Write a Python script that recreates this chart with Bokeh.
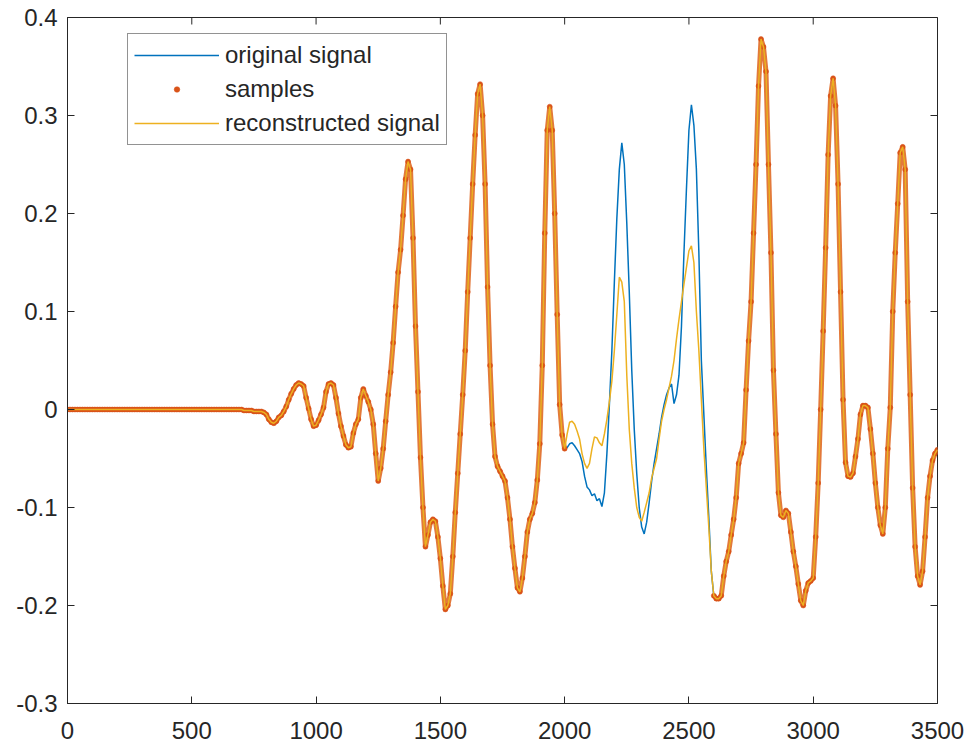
import numpy as np
from bokeh.plotting import figure
from bokeh.models import Range1d, FixedTicker, Legend, LegendItem
from bokeh.embed import file_html
from bokeh.resources import INLINE

# ---------------- data ----------------
x_step = 10
x_max = 3500

# original signal, one value every 10 samples from 0 to 3500
original_signal = (
    [0.0] * 70 +
    [0.0, -0.001, -0.001, -0.001, -0.001, -0.002, -0.002, -0.002, -0.002, -0.003,            # 700-790
     -0.005, -0.010, -0.013, -0.014, -0.012, -0.008, -0.006, -0.002, 0.003, 0.010,          # 800-890
     0.016, 0.021, 0.025, 0.027, 0.026, 0.024, 0.012, 0.001, -0.010, -0.017,                # 900-990
     -0.016, -0.011, -0.005, 0.002, 0.018, 0.026, 0.027, 0.025, 0.012, -0.004,              # 1000-1090
     -0.017, -0.027, -0.036, -0.039, -0.038, -0.024, -0.015, -0.010, 0.012, 0.021,          # 1100-1190
     0.014, 0.008, 0.000, -0.015, -0.045, -0.073, -0.060, -0.040, -0.012, 0.015,            # 1200-1290
     0.038, 0.068, 0.105, 0.140, 0.163, 0.198, 0.235, 0.253, 0.245, 0.175,                  # 1300-1390
     0.085, 0.018, -0.049, -0.100, -0.140, -0.128, -0.115, -0.112, -0.114, -0.130,          # 1400-1490
     -0.152, -0.180, -0.204, -0.200, -0.188, -0.150, -0.105, -0.065, -0.025, 0.015,         # 1500-1590
     0.060, 0.120, 0.175, 0.230, 0.280, 0.322, 0.332, 0.300, 0.230, 0.125,                  # 1600-1690
     0.045, -0.015, -0.048, -0.058, -0.063, -0.068, -0.073, -0.090, -0.112, -0.140,         # 1700-1790
     -0.162, -0.182, -0.186, -0.172, -0.150, -0.125, -0.112, -0.106, -0.095, -0.072,        # 1800-1890
     -0.035, 0.045, 0.180, 0.285, 0.309, 0.285, 0.200, 0.097, 0.005, -0.026,                # 1900-1990
     -0.040,                                                                                # 2000
     -0.039, -0.035, -0.034, -0.037, -0.041, -0.045, -0.053, -0.068, -0.079,                # 2010-2090
     -0.082, -0.088, -0.086, -0.093, -0.091, -0.099, -0.085, -0.045, 0.005, 0.060,          # 2100-2190
     0.130, 0.195, 0.245, 0.272, 0.250, 0.190, 0.120, 0.040, -0.020, -0.065,                # 2200-2290
     -0.100, -0.120, -0.127, -0.115, -0.095, -0.073, -0.055, -0.040, -0.025, -0.008,        # 2300-2390
     0.005, 0.015, 0.022, 0.026, 0.006, 0.015, 0.035, 0.085, 0.160, 0.225,                  # 2400-2490
     0.285, 0.311, 0.290, 0.245, 0.160, 0.050, -0.005, -0.060, -0.110, -0.165,              # 2500-2590
     -0.190, -0.193, -0.193, -0.190, -0.170, -0.155, -0.145, -0.128, -0.112, -0.090,        # 2600-2690
     -0.055, -0.045, -0.034, 0.020, 0.070, 0.110, 0.180, 0.250, 0.330, 0.378,               # 2700-2790
     0.370, 0.345, 0.250, 0.160, 0.040, -0.025, -0.085, -0.108, -0.110, -0.103,             # 2800-2890
     -0.106, -0.125, -0.145, -0.160, -0.178, -0.195, -0.200, -0.185, -0.177, -0.175,        # 2900-2990
     -0.172, -0.130, -0.075, 0.000, 0.080, 0.165, 0.260, 0.320, 0.338, 0.310,               # 3000-3090
     0.230, 0.120, 0.010, -0.054, -0.068, -0.069, -0.065, -0.048, -0.030, -0.005,           # 3100-3190
     0.004, 0.004, 0.002, -0.020, -0.045, -0.075, -0.100, -0.118, -0.127, -0.100,           # 3200-3290
     -0.040, 0.002, 0.100, 0.160, 0.210, 0.262, 0.268, 0.245, 0.110, 0.015,                 # 3300-3390
     -0.080, -0.140, -0.170, -0.179, -0.165, -0.130, -0.090, -0.068, -0.052, -0.045,        # 3400-3490
     -0.041]                                                                                # 3500
)

# reconstructed signal inside the un-sampled gap (2010..2590); elsewhere equal to the original
gap_first, gap_last = 2010, 2590
reconstructed_gap = [
    -0.025, -0.013, -0.012, -0.015, -0.022, -0.030, -0.045, -0.055, -0.060,                 # 2010-2090
    -0.055, -0.040, -0.028, -0.029, -0.034, -0.037, -0.025, -0.010, 0.008, 0.029,           # 2100-2190
    0.060, 0.097, 0.135, 0.130, 0.110, 0.035, -0.020, -0.055, -0.080, -0.100,               # 2200-2290
    -0.110, -0.114, -0.105, -0.095, -0.085, -0.070, -0.060, -0.050, -0.030, -0.012,         # 2300-2390
    0.000, 0.010, 0.022, 0.034, 0.050, 0.072, 0.092, 0.110, 0.128, 0.145,                   # 2400-2490
    0.162, 0.167, 0.150, 0.100, 0.060, 0.010, -0.040, -0.080, -0.120, -0.165,               # 2500-2590
]

x_ticks = [0, 500, 1000, 1500, 2000, 2500, 3000, 3500]
x_tick_labels = ["0", "500", "1000", "1500", "2000", "2500", "3000", "3500"]
y_ticks = [-0.3, -0.2, -0.1, 0.0, 0.1, 0.2, 0.3, 0.4]
y_tick_labels = ["-0.3", "-0.2", "-0.1", "0", "0.1", "0.2", "0.3", "0.4"]
x_lim = (0, 3500)
y_lim = (-0.3, 0.4)

# ---------------- build series ----------------
x = np.arange(0, x_max + 1, x_step)
orig = np.array(original_signal, dtype=float)
recon = orig.copy()
gap_mask = (x >= gap_first) & (x <= gap_last)
recon[gap_mask] = np.array(reconstructed_gap, dtype=float)
sample_mask = ~gap_mask
samples_x = x[sample_mask]
samples_y = orig[sample_mask]
band_y = np.where(sample_mask, orig, np.nan)

BLUE = "#0072BD"
ORANGE = "#D95319"
YELLOW = "#EDB120"
AX = "#262626"
FONT = "Liberation Sans"

p = figure(frame_width=870, frame_height=686, output_backend="svg", toolbar_location=None,
           x_range=Range1d(*x_lim), y_range=Range1d(*y_lim),
           min_border_left=67, min_border_top=17, min_border_right=28, min_border_bottom=40)
p.background_fill_color = "white"
p.border_fill_color = "white"
p.outline_line_color = AX
p.outline_line_width = 1
p.xgrid.visible = False
p.ygrid.visible = False

r_orig = p.line(x, orig, line_color=BLUE, line_width=1.5)
p.line(x, band_y, line_color="#E06A26", line_width=5, line_alpha=0.9)
r_samp = p.scatter(samples_x, samples_y, marker="circle", size=5,
                   fill_color=ORANGE, line_color=ORANGE, line_width=0.5)
r_rec = p.line(x, recon, line_color=YELLOW, line_width=1.5)

# inward box ticks on the top and right edges (half of each dash is clipped by the frame)
p.scatter(x_ticks, [y_lim[1]] * len(x_ticks), marker="dash", angle=np.pi / 2, size=14,
          line_color=AX, line_width=1)
p.scatter([x_lim[1]] * len(y_ticks), y_ticks, marker="dash", size=14,
          line_color=AX, line_width=1)

for ax in (p.xaxis[0], p.yaxis[0]):
    ax.axis_line_color = AX
    ax.axis_line_width = 1
    ax.major_tick_line_color = AX
    ax.major_tick_in = 7
    ax.major_tick_out = 0
    ax.minor_tick_line_color = None
    ax.major_label_text_font = FONT
    ax.major_label_text_color = AX
    ax.major_label_text_font_size = "24px"

p.xaxis.ticker = FixedTicker(ticks=x_ticks)
p.yaxis.ticker = FixedTicker(ticks=y_ticks)
p.xaxis.major_label_overrides = dict(zip(x_ticks, x_tick_labels))
p.yaxis.major_label_overrides = dict(zip(y_ticks, y_tick_labels))
p.xaxis.major_label_standoff = 18
p.yaxis.major_label_standoff = 10

legend = Legend(items=[
    LegendItem(label="original signal", renderers=[r_orig]),
    LegendItem(label="samples", renderers=[r_samp]),
    LegendItem(label="reconstructed signal", renderers=[r_rec]),
], location=(60, 558))
legend.label_text_font = FONT
legend.label_text_font_size = "24px"
legend.label_text_color = AX
legend.glyph_width = 85
legend.glyph_height = 14
legend.label_height = 30
legend.label_standoff = 6
legend.spacing = 4
legend.padding = 6
legend.margin = 0
legend.border_line_color = AX
legend.border_line_width = 1
legend.background_fill_color = "white"
legend.background_fill_alpha = 1
p.add_layout(legend, "center")

open("out.html", "w").write(file_html(p, INLINE))
